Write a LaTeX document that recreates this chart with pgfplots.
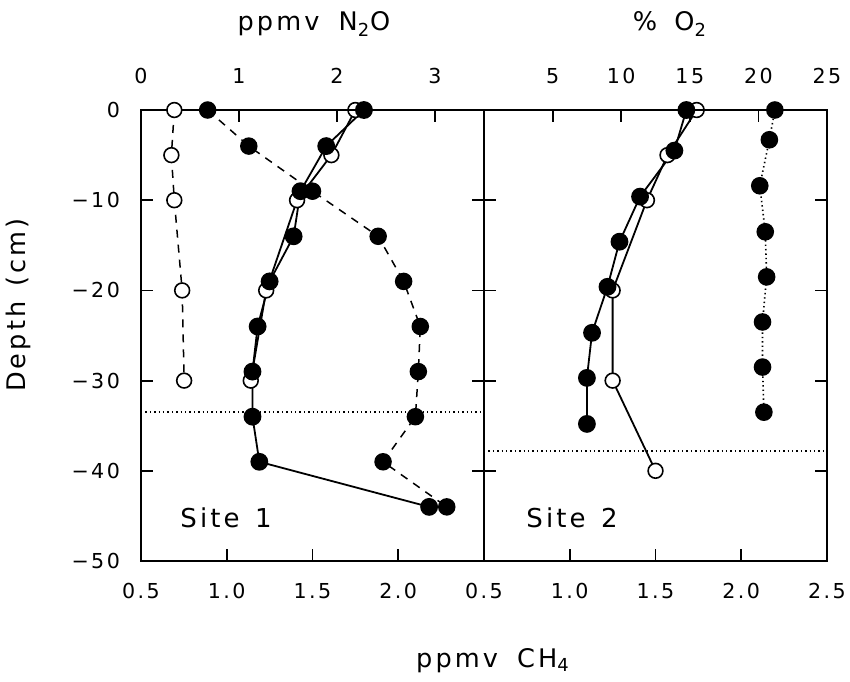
\documentclass[border=0pt]{standalone}
\usepackage{fontspec}
\setmainfont{DejaVu Sans}[LetterSpace=12]
\usepackage{pgfplots}
\pgfplotsset{compat=1.18}

\pgfplotsset{
  panel/.style={
    scale only axis, width=171.5pt, height=225.5pt,
    anchor=south west, ymin=-50, ymax=0, clip=false,
    tick align=inside, major tick length=6pt,
    axis line style={line width=0.9pt},
    every tick/.append style={line width=0.9pt, black},
    tick label style={font=\fontsize{10.3}{12}\selectfont},
  },
  bot/.style={panel, xmin=0.5, xmax=2.5, xtick={0.5,1,1.5,2,2.5},
    xtick pos=bottom, ytick pos=both, ytick={-50,-40,...,0},
    xticklabel style={yshift=-7.5pt}, yticklabel style={xshift=-7pt}},
  top/.style={panel, hide y axis, xtick pos=top, xticklabel pos=top,
    xticklabel style={yshift=9.5pt}},
  opn/.style={black, line width=0.9pt, mark=*, mark size=3.7pt,
    mark options={solid, fill=white, line width=0.8pt}},
  fil/.style={black, line width=0.9pt, mark=*, mark size=4pt,
    mark options={solid, fill=black}},
  dsh/.style={dash pattern=on 4pt off 3.5pt, line width=0.75pt},
  dts/.style={dash pattern=on 0.7pt off 1.5pt, line width=0.8pt},
}

\begin{document}
\begin{tikzpicture}
\path[use as bounding box] (-70.5pt,-60pt) rectangle (354.5pt,280.5pt);

% Site 1, CH4 (bottom axis)
\begin{axis}[bot, at={(0pt,0pt)},
  xticklabels={0.5,1.0,1.5,2.0,{}},
  yticklabels={−50,−40,−30,−20,−10,0}]
\addplot[black, dts, line width=0.7pt] coordinates {(0.5,-33.5) (2.5,-33.5)};
\addplot[opn] coordinates {
  (1.75,0) (1.61,-5) (1.41,-10) (1.23,-20) (1.14,-30)};
\addplot[fil] coordinates {
  (1.80,0) (1.58,-4) (1.43,-9) (1.39,-14) (1.25,-19) (1.18,-24)
  (1.15,-29) (1.15,-34) (1.19,-39) (2.18,-44)};
\end{axis}

% Site 1, N2O (top axis)
\begin{axis}[top, at={(0pt,0pt)}, xmin=0, xmax=3.5, xtick={0,1,2,3},
  xticklabels={0,1,2,3}]
\addplot[opn, dsh] coordinates {
  (0.34,0) (0.31,-5) (0.34,-10) (0.42,-20) (0.44,-30)};
\addplot[fil, dsh] coordinates {
  (0.68,0) (1.10,-4) (1.75,-9) (2.42,-14) (2.68,-19) (2.85,-24)
  (2.83,-29) (2.80,-34) (2.47,-39) (3.12,-44)};
\end{axis}

% Site 2, CH4 (bottom axis)
\begin{axis}[bot, at={(171.5pt,0pt)},
  xticklabels={0.5,1.0,1.5,2.0,2.5}, yticklabels={}]
\addplot[black, dts, line width=0.7pt] coordinates {(0.5,-37.8) (2.5,-37.8)};
\addplot[opn] coordinates {
  (1.74,0) (1.57,-5) (1.45,-10) (1.25,-20) (1.25,-30) (1.50,-40)};
\addplot[fil] coordinates {
  (1.68,0) (1.61,-4.5) (1.41,-9.6) (1.29,-14.6) (1.22,-19.6)
  (1.13,-24.7) (1.10,-29.7) (1.10,-34.8)};
\end{axis}

% Site 2, O2 (top axis)
\begin{axis}[top, at={(171.5pt,0pt)}, xmin=0, xmax=25,
  xtick={0,5,...,25}, xticklabels={{},5,10,15,20,25}]
\addplot[fil, dts] coordinates {
  (21.2,0) (20.8,-3.3) (20.1,-8.4) (20.5,-13.5) (20.6,-18.5)
  (20.3,-23.5) (20.3,-28.5) (20.4,-33.5)};
\end{axis}

\begin{scope}[every node/.style={font=\fontsize{12.8}{14}\selectfont, inner sep=0pt}]
\node[anchor=base] at (176pt,-53pt) {ppmv\hspace{4pt} CH\textsubscript{4}};
\node[anchor=base] at (86.5pt,265pt) {ppmv\hspace{4pt} N\textsubscript{2}O};
\node[anchor=base] at (264.5pt,265pt) {\%\hspace{3pt} O\textsubscript{2}};
\node[rotate=90] at (-61.5pt,128pt) {Depth\hspace{2pt} (cm)};
\node[anchor=base west, font=\fontsize{13}{15}\selectfont] at (19.5pt,17pt) {Site\hspace{2pt} 1};
\node[anchor=base west, font=\fontsize{13}{15}\selectfont] at (192.5pt,17pt) {Site\hspace{2pt} 2};
\end{scope}
\end{tikzpicture}
\end{document}
